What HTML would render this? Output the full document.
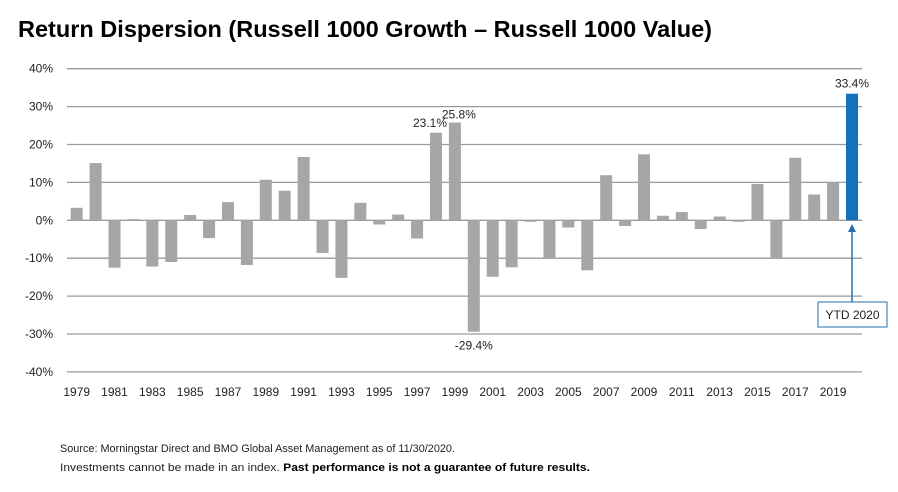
<!DOCTYPE html>
<html><head><meta charset="utf-8"><style>
html,body{margin:0;padding:0;background:#fff;}
svg{display:block;font-family:"Liberation Sans",sans-serif;}
</style></head><body>
<svg id="chart" width="898" height="492" viewBox="0 0 898 492">
<text x="18" y="37" font-size="23" font-weight="bold" fill="#000" textLength="694" lengthAdjust="spacingAndGlyphs">Return Dispersion (Russell 1000 Growth – Russell 1000 Value)</text>
<g id="grid"></g>
<g id="yticks"></g>
<g id="bars"></g>
<g id="xticks"></g>
<g id="anns"></g>
<g>
<line x1="852" y1="230" x2="852" y2="302" stroke="#1f6fb0" stroke-width="1.5"/>
<polygon points="852,224 848,232 856,232" fill="#1f6fb0"/>
<rect x="818" y="302" width="69" height="25" fill="#fff" stroke="#1f6fb0" stroke-width="1"/>
<text x="852.5" y="319" font-size="12" text-anchor="middle" fill="#222">YTD 2020</text>
</g>
<text x="60" y="452" font-size="11" fill="#222" textLength="395" lengthAdjust="spacingAndGlyphs">Source: Morningstar Direct and BMO Global Asset Management as of 11/30/2020.</text>
<text x="60" y="471" font-size="11" fill="#222" textLength="530" lengthAdjust="spacingAndGlyphs">Investments cannot be made in an index. <tspan font-weight="bold" fill="#000">Past performance is not a guarantee of future results.</tspan></text>
</svg>
<script>
const years = [];
for (let y = 1979; y <= 2020; y++) years.push(y);
const values = [3.3,15.1,-12.5,0.3,-12.2,-11.0,1.4,-4.7,4.8,-11.8,10.7,7.8,16.7,-8.6,-15.2,4.6,-1.1,1.5,-4.8,23.1,25.8,-29.4,-14.9,-12.4,-0.4,-10.1,-1.9,-13.2,11.9,-1.5,17.4,1.2,2.2,-2.3,1.0,-0.4,9.6,-10.0,16.5,6.8,10.0,33.4];
const yTicks = [40,30,20,10,0,-10,-20,-30,-40];
const labeledYears = [1998,1999,2000,2020];
const NS = "http://www.w3.org/2000/svg";
function yS(v){ return 220.3 - v*3.79; }
function xS(i){ return 76.7 + i*18.91; }
function mk(tag, attrs, parent){
  const el = document.createElementNS(NS, tag);
  for (const k in attrs) el.setAttribute(k, attrs[k]);
  parent.appendChild(el); return el;
}
const grid = document.getElementById('grid'), yt = document.getElementById('yticks');
yTicks.forEach(t => {
  const l = mk('line', {x1:67, x2:862, y1:yS(t), y2:yS(t), stroke:'#9a9a9a', 'stroke-width':1.3}, grid);
  
  
  const tx = mk('text', {x:53, y:yS(t)+4, 'font-size':12, 'text-anchor':'end', fill:'#222'}, yt);
  tx.textContent = t + '%';
  
  
});
const bars = document.getElementById('bars'), xt = document.getElementById('xticks'), an = document.getElementById('anns');
years.forEach((yr, i) => {
  const v = values[i];
  const top = Math.min(yS(v), yS(0)), h = Math.abs(yS(v) - yS(0));
  const r = mk('rect', {x:xS(i)-6, y:top, width:12, height:Math.max(h,1), fill: yr === 2020 ? '#1272bd' : '#a6a6a6'}, bars);
  
  
  if (yr % 2 === 1) {
    const t = mk('text', {x:xS(i), y:396, 'font-size':12, 'text-anchor':'middle', fill:'#222'}, xt);
    t.textContent = yr;
    
    
  }
  if (labeledYears.includes(yr)) {
    let tx = xS(i), ty = v >= 0 ? yS(v) - 6 : yS(v) + 18;
    if (yr === 1998) tx -= 6;
    if (yr === 1999) { tx += 4; ty = yS(v) - 4; }
    const t = mk('text', {x:tx, y:ty, 'font-size':12, 'text-anchor':'middle', fill:'#222'}, an);
    t.textContent = v.toFixed(1) + '%';
    
    
  }
});
</script>
</body></html>
